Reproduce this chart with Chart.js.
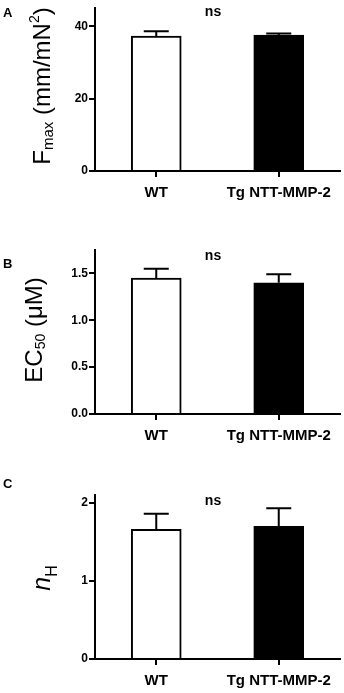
<!DOCTYPE html>
<html lang="en">
<head>
    <meta charset="UTF-8">
    <title>Fmax, EC50 and nH: WT vs Tg NTT-MMP-2</title>
    <script src="https://cdn.jsdelivr.net/npm/chart.js"></script>
    <style>
        body {
            margin: 0;
            background: #fff;
            width: 344px;
            height: 693px;
            position: relative;
            overflow: hidden;
        }
        canvas {
            position: absolute;
            left: 0;
        }
        #chartA { top: 0px; }
        #chartB { top: 220px; }
        #chartC { top: 460px; }
    </style>
</head>
<body>
    <canvas id="chartA" width="344" height="215"></canvas>
    <canvas id="chartB" width="344" height="235"></canvas>
    <canvas id="chartC" width="344" height="233"></canvas>

    <script>
        // data
        const groups = ["WT", "Tg NTT-MMP-2"];

        const fmaxMean = [37.3, 37.6];
        const fmaxSem = [1.3, 0.4];
        const fmaxTicks = [0, 20, 40];
        const fmaxTickLabels = ["0", "20", "40"];

        const ec50Mean = [1.45, 1.40];
        const ec50Sem = [0.10, 0.09];
        const ec50Ticks = [0, 0.5, 1.0, 1.5];
        const ec50TickLabels = ["0.0", "0.5", "1.0", "1.5"];

        const nhMean = [1.66, 1.70];
        const nhSem = [0.20, 0.23];
        const nhTicks = [0, 1, 2];
        const nhTickLabels = ["0", "1", "2"];

        const FONT = "'Liberation Sans', Arial, sans-serif";

        // one-sided SEM bars on top of each bar
        const errorBars = {
            id: "errorBars",
            afterDatasetsDraw(chart, args, opts) {
                const ctx = chart.ctx;
                const y = chart.scales.y;
                const meta = chart.getDatasetMeta(0);
                ctx.save();
                ctx.strokeStyle = "#000";
                ctx.lineWidth = 2;
                meta.data.forEach((bar, i) => {
                    const top = y.getPixelForValue(opts.mean[i]);
                    const end = y.getPixelForValue(opts.mean[i] + opts.sem[i]);
                    ctx.beginPath();
                    ctx.moveTo(bar.x, top);
                    ctx.lineTo(bar.x, end);
                    ctx.moveTo(bar.x - 12.5, end);
                    ctx.lineTo(bar.x + 12.5, end);
                    ctx.stroke();
                });
                ctx.restore();
            }
        };

        // panel letter, "ns" and the rotated axis title with sub/superscripts
        const panelText = {
            id: "panelText",
            afterDraw(chart, args, opts) {
                const ctx = chart.ctx;
                ctx.save();
                ctx.fillStyle = "#000";
                ctx.textBaseline = "alphabetic";

                ctx.font = "bold 13px " + FONT;
                ctx.textAlign = "left";
                ctx.fillText(opts.letter, 3, opts.letterY);

                ctx.font = "bold 14px " + FONT;
                ctx.textAlign = "center";
                ctx.fillText("ns", 213, opts.nsY);

                ctx.textAlign = "left";
                let total = 0;
                opts.title.forEach(p => {
                    ctx.font = (p.style || "") + " " + p.size + "px " + FONT;
                    p.w = ctx.measureText(p.t).width;
                    total += p.w;
                });
                ctx.translate(opts.titleX, opts.titleY);
                ctx.rotate(-Math.PI / 2);
                let x = -total / 2;
                opts.title.forEach(p => {
                    ctx.font = (p.style || "") + " " + p.size + "px " + FONT;
                    ctx.fillText(p.t, x, p.dy || 0);
                    x += p.w;
                });
                ctx.restore();
            }
        };

        function makePanel(id, cfg) {
            return new Chart(document.getElementById(id), {
                type: "bar",
                data: {
                    labels: groups,
                    datasets: [{
                        data: cfg.mean,
                        backgroundColor: ["#fff", "#000"],
                        borderColor: "#000",
                        borderWidth: 2,
                        borderSkipped: "start",
                        barThickness: 50
                    }]
                },
                options: {
                    responsive: false,
                    animation: false,
                    events: [],
                    layout: { padding: { top: cfg.top, right: 4, left: 0, bottom: 0 } },
                    plugins: {
                        legend: { display: false },
                        tooltip: { enabled: false },
                        errorBars: { mean: cfg.mean, sem: cfg.sem },
                        panelText: cfg.text
                    },
                    scales: {
                        x: {
                            grid: { drawOnChartArea: false, offset: false, color: "#000", lineWidth: 2, tickLength: 6 },
                            border: { color: "#000", width: 2 },
                            ticks: { color: "#000", font: { family: FONT, size: 15, weight: "bold" }, padding: 7, maxRotation: 0 },
                            afterFit: s => { s.height = cfg.xh; }
                        },
                        y: {
                            min: 0,
                            max: cfg.max,
                            afterBuildTicks: s => { s.ticks = cfg.ticks.map(v => ({ value: v })); },
                            grid: { drawOnChartArea: false, color: "#000", lineWidth: 2, tickLength: 6 },
                            border: { color: "#000", width: 2 },
                            ticks: {
                                color: "#000",
                                font: { family: FONT, size: 12, weight: "bold" },
                                padding: 1,
                                callback: (v, i) => cfg.tickLabels[i]
                            },
                            afterFit: s => { s.width = 95; }
                        }
                    }
                },
                plugins: [errorBars, panelText]
            });
        }

        makePanel("chartA", {
            mean: fmaxMean, sem: fmaxSem, max: 45, ticks: fmaxTicks, tickLabels: fmaxTickLabels,
            top: 7, xh: 44,
            text: {
                letter: "A", letterY: 17, nsY: 16, titleX: 50, titleY: 86,
                title: [
                    { t: "F", size: 24 },
                    { t: "max", size: 15, dy: 3 },
                    { t: " (mm/mN", size: 24 },
                    { t: "2", size: 14, dy: -11 },
                    { t: ")", size: 24 }
                ]
            }
        });

        makePanel("chartB", {
            mean: ec50Mean, sem: ec50Sem, max: 1.75, ticks: ec50Ticks, tickLabels: ec50TickLabels,
            top: 30, xh: 41,
            text: {
                letter: "B", letterY: 48, nsY: 40, titleX: 42, titleY: 110,
                title: [
                    { t: "EC", size: 24 },
                    { t: "50", size: 14, dy: 3 },
                    { t: " (\u03bcM)", size: 24 }
                ]
            }
        });

        makePanel("chartC", {
            mean: nhMean, sem: nhSem, max: 2.1, ticks: nhTicks, tickLabels: nhTickLabels,
            top: 35, xh: 34,
            text: {
                letter: "C", letterY: 28, nsY: 45, titleX: 50, titleY: 118,
                title: [
                    { t: "n", size: 25, style: "italic" },
                    { t: "H", size: 16, dy: 7 }
                ]
            }
        });
    </script>
</body>
</html>
